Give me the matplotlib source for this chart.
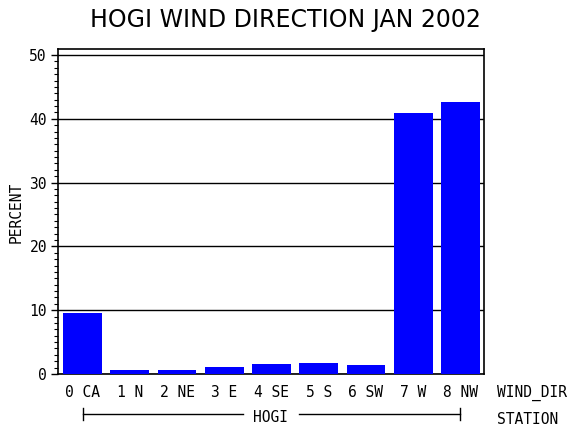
import matplotlib
matplotlib.use("Agg")
import matplotlib.pyplot as plt
from matplotlib.ticker import MultipleLocator
from matplotlib.transforms import blended_transform_factory

categories = ["0 CA", "1 N", "2 NE", "3 E", "4 SE", "5 S", "6 SW", "7 W", "8 NW"]
percent = [9.56, 0.63, 0.6, 1.1, 1.6, 1.75, 1.4, 40.9, 42.6]
yticks = [0, 10, 20, 30, 40, 50]
title = "HOGI WIND DIRECTION JAN 2002"
station = "HOGI"

mono = "DejaVu Sans Mono"
fs = 10.5

fig = plt.figure(figsize=(5.7, 4.3), dpi=100)
ax = fig.add_axes([58/570, 56/430, 426/570, 325/430])

x = list(range(len(categories)))
ax.bar(x, percent, width=0.82, color="#0000FF", edgecolor="none", zorder=3)

ax.set_xlim(-0.52, 8.5)
ax.set_ylim(0, 50.94)
ax.set_yticks(yticks)
ax.yaxis.set_minor_locator(MultipleLocator(1))
for t in yticks:
    ax.axhline(t, color="black", linewidth=1.0, zorder=2)

ax.tick_params(axis="y", which="major", length=5, width=1, direction="out",
               labelsize=fs, pad=3)
ax.tick_params(axis="y", which="minor", length=3, width=0.8, direction="out")
for lab in ax.get_yticklabels():
    lab.set_family(mono)

ax.set_xticks(x)
ax.set_xticklabels(categories, family=mono, fontsize=fs)
ax.tick_params(axis="x", length=0, pad=8)

for s in ax.spines.values():
    s.set_linewidth(1.2)
    s.set_color("black")

fig.text(16/570, 1 - 212/430, "PERCENT", rotation=90, ha="center", va="center",
         family=mono, fontsize=fs)

fig.text(285/570, 1 - 20/430, title, ha="center", va="center",
         fontsize=17, family="DejaVu Sans")

# Variable labels on the right
fig.text(497/570, 1 - 393/430, "WIND_DIR", ha="left", va="center",
         family=mono, fontsize=fs)
fig.text(497/570, 1 - 420/430, "STATION", ha="left", va="center",
         family=mono, fontsize=fs)

# Group line for station
tr = blended_transform_factory(ax.transData, fig.transFigure)
yline = 1 - 414/430
ax.plot([0, 3.39], [yline, yline], transform=tr, color="black", lw=1, clip_on=False)
ax.plot([4.58, 8], [yline, yline], transform=tr, color="black", lw=1, clip_on=False)
for xe in (0, 8):
    ax.plot([xe, xe], [1 - 408/430, 1 - 420/430], transform=tr, color="black",
            lw=1, clip_on=False)
ax.text(3.985, 1 - 417/430, station, transform=tr, ha="center", va="center",
        family=mono, fontsize=fs)

fig.savefig("out.png", dpi=100)
